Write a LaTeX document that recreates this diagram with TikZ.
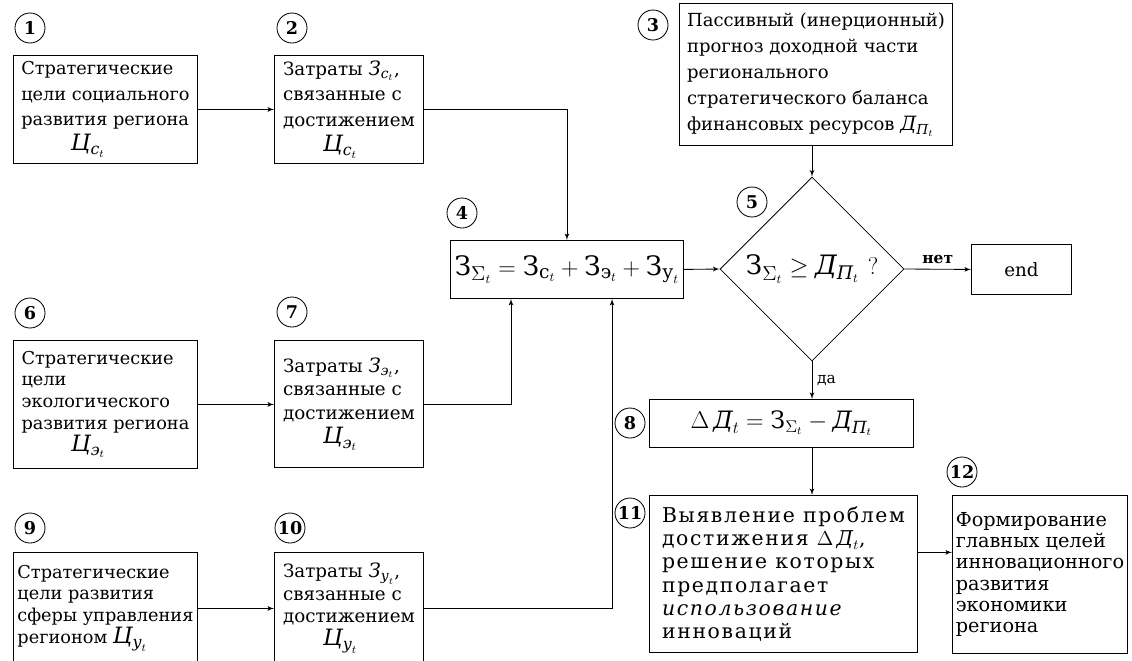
\documentclass[tikz,border=0pt]{standalone}
\usepackage{amsmath,amssymb}
\usepackage{fontspec}
\setmainfont{DejaVu Serif}
\newfontfamily\spacedfont[LetterSpace=8]{DejaVu Serif}
\usepackage{tikz}
\usetikzlibrary{shapes,arrows}

\newcommand{\cy}[1]{\text{\itshape #1}}
\newcommand{\goalsym}[1]{{\fontsize{16}{16}\selectfont$\cy{Ц}_{\cy{#1}_t}$}}
\newcommand{\costsym}[1]{{\fontsize{14}{14}\selectfont$\cy{З}_{\cy{#1}_t}$}}

\begin{document}
\begin{tikzpicture}[x=0.025cm, y=-0.025cm,
    block/.style={rectangle, draw, anchor=north west, align=left, inner sep=2pt, line width=0.6pt},
    num/.style={circle, draw, inner sep=0pt, minimum size=0.75cm, font=\fontsize{12.5}{12.5}\selectfont\bfseries, line width=0.6pt},
    decision/.style={diamond, draw, aspect=1, inner sep=0pt, minimum size=4.6cm, line width=0.6pt},
    line/.style={draw, -latex', line width=0.6pt}]

    \useasboundingbox (0,0) rectangle (1132,660);
    \clip (0,0) rectangle (1132,660);

    % Goal and cost blocks
    \node [block, minimum width=4.6cm, minimum height=2.7cm, font=\fontsize{12.6}{18}\selectfont] (b1) at (13,55)
        {Стратегические\\ цели социального\\ развития региона\\ \hspace*{2.8em}\goalsym{с}};
    \node [block, minimum width=3.725cm, minimum height=2.7cm, font=\fontsize{13}{18}\selectfont] (b2) at (274,55)
        {Затраты \costsym{с},\\ связанные с\\ достижением\\ \hspace*{2.2em}\goalsym{с}};
    \node [block, minimum width=4.6cm, minimum height=3.2cm, font=\fontsize{12.6}{15.5}\selectfont] (b6) at (13,340)
        {Стратегические\\ цели\\ экологического\\ развития региона\\ \hspace*{2.8em}\goalsym{э}};
    \node [block, minimum width=3.725cm, minimum height=3.175cm, font=\fontsize{13}{17}\selectfont] (b7) at (274,340)
        {Затраты \costsym{э},\\ связанные с\\ достижением\\ \hspace*{2.2em}\goalsym{э}};
    \node [block, minimum width=4.6cm, minimum height=2.8cm, font=\fontsize{12.6}{15.5}\selectfont] (b9) at (13,552)
        {Стратегические\\ цели развития\\ сферы управления\\ регионом \goalsym{у}};
    \node [block, minimum width=3.725cm, minimum height=2.8cm, font=\fontsize{13}{16}\selectfont] (b10) at (274,552)
        {Затраты \costsym{у},\\ связанные с\\ достижением\\ \hspace*{2.2em}\goalsym{у}};

    % Balance and decision
    \node [block, minimum width=6.825cm, minimum height=3.55cm, font=\fontsize{12.8}{18.5}\selectfont] (b3) at (679,3)
        {Пассивный (инерционный)\\ прогноз доходной части\\ регионального\\ стратегического баланса\\ финансовых ресурсов {\fontsize{14}{14}\selectfont$\cy{Д}_{\cy{П}_t}$}};
    \node [block, align=center, minimum width=5.825cm, minimum height=1.45cm, font=\fontsize{19}{22}\selectfont] (b4) at (450,240)
        {$\text{З}_{\Sigma_t} = \text{З}_{\text{с}_t} + \text{З}_{\text{э}_t} + \text{З}_{\text{у}_t}$};
    \node [decision, font=\fontsize{19}{22}\selectfont] (d5) at (812,269)
        {$\text{З}_{\Sigma_t} \geq \cy{Д}_{\cy{П}_t}\ ?$};
    \node [block, align=center, minimum width=2.5cm, minimum height=1.25cm, font=\fontsize{13}{15}\selectfont] (end) at (971,244) {end};
    \node [block, align=center, minimum width=6.6cm, minimum height=1.2cm, font=\fontsize{17}{20}\selectfont] (b8) at (649,399)
        {$\Delta\,\cy{Д}_t = \text{З}_{\Sigma_t} - \cy{Д}_{\cy{П}_t}$};
    \node [block, minimum width=6.7cm, minimum height=3.925cm, font=\spacedfont\fontsize{14.5}{16.5}\selectfont] (b11) at (649,495)
        {Выявление проблем\\ достижения $\Delta\,\cy{Д}_t$,\\ решение которых\\ предполагает\\ {\itshape использование}\\ инноваций};
    \node [block, minimum width=4.375cm, minimum height=3.95cm, font=\fontsize{13.7}{15.2}\selectfont] (b12) at (952,495)
        {Формирование\\ главных целей\\ инновационного\\ развития\\ экономики\\ региона};

    % Numbers
    \node [num] (n1) at (30,28) {1};
    \node [num] (n2) at (292,28) {2};
    \node [num] (n3) at (653,25) {3};
    \node [num] (n4) at (462,213) {4};
    \node [num] (n5) at (752,202) {5};
    \node [num] (n6) at (30,313) {6};
    \node [num] (n7) at (292,312) {7};
    \node [num] (n8) at (630,423) {8};
    \node [num] (n9) at (30,528) {9};
    \node [num] (n10) at (290,528) {10};
    \node [num] (n11) at (630,513) {11};
    \node [num] (n12) at (962,472) {12};

    % Paths
    \path [line] (b1.east) -- (b1.east -| b2.west);
    \path [line] (b2.east |- b1.east) -| (b4.north);
    \path [line] (b6.east) -- (b6.east -| b7.west);
    \path [line] (b7.east) -| ([xshift=1.525cm]b4.south west);
    \path [line] (b9.east) -- (b9.east -| b10.west);
    \path [line] (b10.east) -| ([xshift=4.05cm]b4.south west);
    \path [line] (d5.north |- b3.south) -- (d5.north);
    \path [line] (b4.east) -- (d5.west);
    \path [line] (d5.east) -- node [above, font=\fontsize{11}{13}\selectfont\bfseries] {нет} (end.west);
    \path [line] (d5.south) -- node [right, font=\fontsize{11}{13}\selectfont] {да} (d5.south |- b8.north);
    \path [line] (d5.south |- b8.south) -- (d5.south |- b11.north);
    \path [line] ([yshift=0.54cm]b11.east) -- ([yshift=0.54cm]b11.east -| b12.west);

\end{tikzpicture}
\end{document}
